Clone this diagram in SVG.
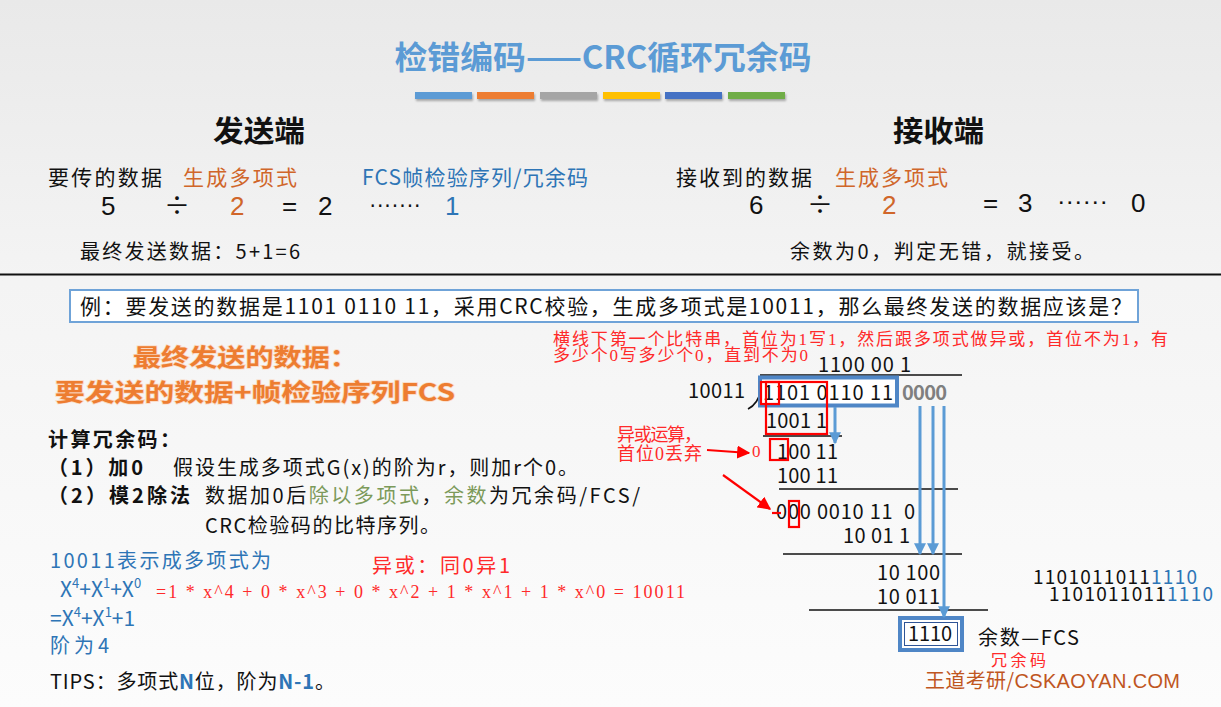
<svg xmlns="http://www.w3.org/2000/svg" width="1221" height="707" viewBox="0 0 1221 707">
<defs>
<linearGradient id="bg" x1="0" y1="0" x2="0" y2="1">
<stop offset="0" stop-color="#e9e9e9"/>
<stop offset="0.4" stop-color="#f4f4f4"/>
<stop offset="1" stop-color="#fcfcfc"/>
</linearGradient>
<marker id="ab" viewBox="0 0 10 10" refX="9" refY="5" markerWidth="4" markerHeight="4" orient="auto" markerUnits="strokeWidth">
<path d="M0,0 L10,5 L0,10 z" fill="#5b9bd5"/>
</marker>
<marker id="ar" viewBox="0 0 10 10" refX="9" refY="5" markerWidth="6" markerHeight="6" orient="auto" markerUnits="strokeWidth">
<path d="M0,0 L10,5 L0,10 z" fill="#ff0000"/>
</marker>
<filter id="sh" x="-10%" y="-50%" width="120%" height="250%">
<feDropShadow dx="1" dy="2" stdDeviation="1.2" flood-color="#000" flood-opacity="0.3"/>
</filter>
</defs>
<style>
text{font-family:"Noto Sans CJK SC","Liberation Sans",sans-serif;fill:#111;}
.serif{font-family:"Liberation Serif","Noto Sans CJK SC",serif;}
.red{fill:#ff2a2a;}
.org{fill:#d0662a;}
.blu{fill:#2e75b6;}
.grn{fill:#7c9a5a;}
.b{font-weight:bold;}
.num{font-size:26px;font-family:"Liberation Sans",sans-serif;}
.div{font-size:26px;}
.dots{font-size:24px;font-family:"Liberation Sans",sans-serif;}
.d{font-size:20px;}
.ln{stroke:#111;stroke-width:1.6;fill:none;}
.barrow{stroke:#5b9bd5;stroke-width:3;fill:none;}
.rarrow{stroke:#ff0000;stroke-width:2.2;fill:none;}
.rbox{fill:none;stroke:#ff0000;stroke-width:2.2;}
.hl{font-size:24px;font-weight:bold;fill:#ed7d31;stroke:#fbd9c2;stroke-width:1.5;paint-order:stroke;}
</style>
<rect x="0" y="0" width="1221" height="707" fill="url(#bg)"/>

<g id="title">
<text x="603" y="69" text-anchor="middle" font-size="32" font-weight="bold" style="fill:#5b9bd5" textLength="417" lengthAdjust="spacingAndGlyphs">检错编码——CRC循环冗余码</text>
<g filter="url(#sh)">
<rect x="415" y="92" width="57" height="7" fill="#5b9bd5"/>
<rect x="477" y="92" width="57" height="7" fill="#ed7d31"/>
<rect x="540" y="92" width="57" height="7" fill="#a5a5a5"/>
<rect x="603" y="92" width="57" height="7" fill="#ffc000"/>
<rect x="665" y="92" width="57" height="7" fill="#4472c4"/>
<rect x="728" y="92" width="57" height="7" fill="#70ad47"/>
</g>
</g>

<g id="sender">
<text x="213" y="142" font-size="29" font-weight="bold" textLength="92" lengthAdjust="spacingAndGlyphs">发送端</text>
<text x="48" y="185" font-size="21" textLength="114">要传的数据</text>
<text x="183" y="185" font-size="21" class="org" textLength="114">生成多项式</text>
<text x="362" y="185" font-size="21" class="blu" textLength="226">FCS帧检验序列/冗余码</text>
<text x="101" y="215" class="num">5</text>
<text x="164" y="215" class="div">÷</text>
<text x="230" y="215" class="num org">2</text>
<text x="282" y="215" class="num">=</text>
<text x="318" y="215" class="num">2</text>
<text x="369" y="212" class="dots" textLength="52" lengthAdjust="spacingAndGlyphs">·······</text>
<text x="445" y="215" class="num blu">1</text>
<text x="80" y="259" font-size="20" textLength="220">最终发送数据：5+1=6</text>
</g>

<g id="receiver">
<text x="893" y="142" font-size="29" font-weight="bold" textLength="91" lengthAdjust="spacingAndGlyphs">接收端</text>
<text x="676" y="185" font-size="21" textLength="136">接收到的数据</text>
<text x="835" y="185" font-size="21" class="org" textLength="113">生成多项式</text>
<text x="749" y="214" class="num">6</text>
<text x="807" y="214" class="div">÷</text>
<text x="882" y="214" class="num org">2</text>
<text x="983" y="212" class="num">=</text>
<text x="1018" y="212" class="num">3</text>
<text x="1057" y="209" class="dots" textLength="51" lengthAdjust="spacingAndGlyphs">······</text>
<text x="1131" y="212" class="num">0</text>
<text x="790" y="259" font-size="20" textLength="304">余数为0，判定无错，就接受。</text>
</g>

<line x1="0" y1="274.5" x2="1221" y2="274.5" stroke="#111" stroke-width="2"/>

<g id="example">
<rect x="70" y="290" width="1068" height="32" fill="#ffffff" stroke="#6fa3d8" stroke-width="2"/>
<text x="80" y="314" font-size="21" textLength="1052">例：要发送的数据是1101 0110 11，采用CRC校验，生成多项式是10011，那么最终发送的数据应该是？</text>
</g>

<g id="rule-note">
<text x="553" y="345" font-size="17" class="serif red" textLength="615">横线下第一个比特串，首位为1写1，然后跟多项式做异或，首位不为1，有</text>
<text x="553" y="361" font-size="17" class="serif red" textLength="255">多少个0写多少个0，直到不为0</text>
</g>

<g id="final-data">
<text x="133" y="366" class="hl" textLength="225" lengthAdjust="spacingAndGlyphs">最终发送的数据：</text>
<text x="55" y="401" class="hl" textLength="400" lengthAdjust="spacingAndGlyphs">要发送的数据+帧检验序列FCS</text>
</g>

<g id="steps">
<text x="48" y="447" font-size="20" class="b" textLength="132">计算冗余码：</text>
<text x="48" y="475" font-size="20" class="b" textLength="95">（1）加0</text>
<text x="173" y="475" font-size="20" textLength="405">假设生成多项式G(x)的阶为r，则加r个0。</text>
<text x="48" y="503" font-size="20" class="b" textLength="142">（2）模2除法</text>
<text x="205" y="503" font-size="20" textLength="435">数据加0后<tspan class="grn">除以多项式</tspan>，<tspan class="grn">余数</tspan>为冗余码/FCS/</text>
<text x="205" y="533" font-size="20" textLength="235">CRC检验码的比特序列。</text>
</g>

<g id="polynomial">
<text x="50" y="568" font-size="20" class="blu" textLength="221">10011表示成多项式为</text>
<text x="60" y="597" font-size="21" class="blu">X<tspan font-size="13" dy="-9">4</tspan><tspan dy="9">+X</tspan><tspan font-size="13" dy="-9">1</tspan><tspan dy="9">+X</tspan><tspan font-size="13" dy="-9">0</tspan></text>
<text x="156" y="598" font-size="18" class="serif red" textLength="529">=1 * x^4 + 0 * x^3 + 0 * x^2 + 1 * x^1 + 1 * x^0 = 10011</text>
<text x="372" y="573" font-size="20" class="red" textLength="138">异或：同0异1</text>
<text x="50" y="626" font-size="21" class="blu">=X<tspan font-size="13" dy="-9">4</tspan><tspan dy="9">+X</tspan><tspan font-size="13" dy="-9">1</tspan><tspan dy="9">+1</tspan></text>
<text x="50" y="653" font-size="20" class="blu" textLength="59">阶为4</text>
<text x="50" y="689" font-size="20" textLength="285">TIPS：多项式<tspan class="b blu">N</tspan>位，阶为<tspan class="b blu">N-1</tspan>。</text>
</g>

<g id="xor-note">
<text x="617" y="441" font-size="18" class="serif red" textLength="85">异或运算，</text>
<text x="617" y="460" font-size="18" class="serif red" textLength="85">首位0丢弃</text>
</g>

<g id="division">
<text x="818" y="372" class="d" textLength="93">1100 00 1</text>
<line class="ln" x1="760" y1="375" x2="962" y2="375"/>
<text x="688" y="398" class="d" textLength="57">10011</text>
<path class="ln" d="M748,409 Q758,404 761,390"/>
<rect x="760" y="377.5" width="137" height="28" fill="#ffffff" stroke="#4f86c6" stroke-width="4"/>
<text x="763" y="400" class="d" textLength="130">1101 0110 11</text>
<text x="902" y="400" class="d" font-weight="bold" style="fill:#7f7f7f" textLength="45">0000</text>
<text x="766" y="428" class="d" textLength="61">1001 1</text>
<line class="ln" x1="763" y1="436" x2="842" y2="436"/>
<text x="752" y="457" font-size="17" class="serif red">0</text>
<text x="777" y="459" class="d" textLength="61">100 11</text>
<text x="777" y="483" class="d" textLength="61">100 11</text>
<line class="ln" x1="779" y1="489" x2="958" y2="489"/>
<text x="776" y="519" class="d" textLength="139" xml:space="preserve">000 0010 11  0</text>
<text x="843" y="543" class="d" textLength="67">10 01 1</text>
<line class="ln" x1="783" y1="554" x2="962" y2="554"/>
<text x="877" y="580" class="d" textLength="63">10 100</text>
<text x="877" y="604" class="d" textLength="63">10 011</text>
<line class="ln" x1="809" y1="610" x2="988" y2="610"/>
</g>

<g id="remainder">
<rect x="900" y="618" width="62" height="32" fill="#ffffff" stroke="#4f86c6" stroke-width="4"/>
<rect x="904.5" y="622.5" width="53" height="23" fill="none" stroke="#2f5597" stroke-width="1"/>
<text x="908" y="641" class="d" textLength="44">1110</text>
<text x="978" y="645" class="d" textLength="101">余数—FCS</text>
<text x="991" y="666" font-size="16" class="red" textLength="55">冗余码</text>
</g>

<g id="result">
<text x="1033" y="584" font-size="19" textLength="164">1101011011<tspan class="blu">1110</tspan></text>
<text x="1049" y="601" font-size="19" textLength="164">1101011011<tspan class="blu">1110</tspan></text>
</g>

<g id="watermark">
<text x="925" y="688" font-size="20" style="fill:#c0561f" textLength="255">王道考研/<tspan font-family="Liberation Sans">CSKAOYAN.COM</tspan></text>
</g>

<g id="highlights">
<rect class="rbox" x="761" y="382" width="18" height="22"/>
<rect class="rbox" x="766" y="382" width="61" height="52"/>
<rect class="rbox" x="770" y="439" width="18" height="21"/>
<rect class="rbox" x="789" y="501" width="10" height="26"/>
</g>

<g id="connectors">
<line class="barrow" x1="835" y1="407" x2="835" y2="443" marker-end="url(#ab)"/>
<line class="barrow" x1="920" y1="406" x2="920" y2="554" marker-end="url(#ab)"/>
<line class="barrow" x1="933" y1="406" x2="933" y2="554" marker-end="url(#ab)"/>
<line class="barrow" x1="944" y1="406" x2="944" y2="617" marker-end="url(#ab)"/>
<line class="rarrow" x1="707" y1="450" x2="749" y2="453" marker-end="url(#ar)"/>
<line class="rarrow" x1="723" y1="475" x2="770" y2="509" marker-end="url(#ar)"/>
<line class="rarrow" x1="772" y1="513" x2="781" y2="513"/>
</g>
</svg>
